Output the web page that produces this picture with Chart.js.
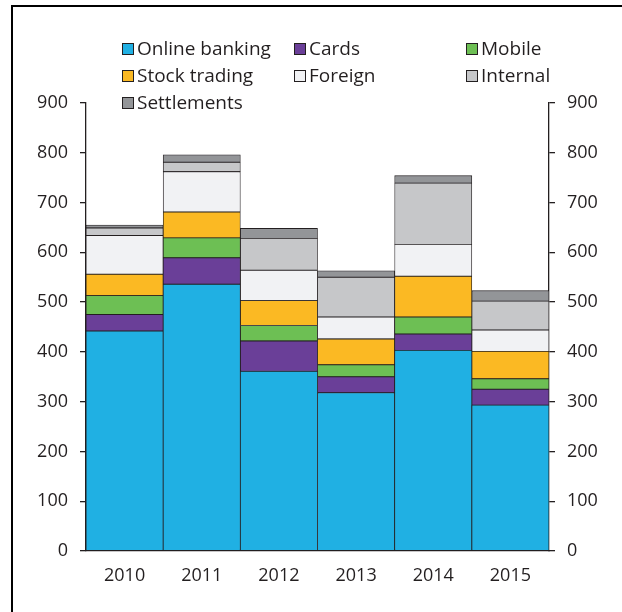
<!DOCTYPE html>
<html>
<head>
<meta charset="utf-8">
<script src="https://cdn.jsdelivr.net/npm/chart.js@4.4.1/dist/chart.umd.min.js"></script>
<style>
  html, body { margin: 0; padding: 0; background: #fff; }
  #wrap { position: relative; width: 622px; height: 612px; overflow: hidden; }
  #frame { position: absolute; left: 11px; top: 5px; width: 700px; height: 700px;
           border-left: 2px solid #000; border-top: 2px solid #000; }
  #c { position: absolute; left: 0; top: 0; }
</style>
</head>
<body>
<div id="wrap">
  <div id="frame"></div>
  <canvas id="c" width="622" height="612"></canvas>
</div>
<script>
const categories = ["2010", "2011", "2012", "2013", "2014", "2015"];
const seriesNames = ["Online banking", "Cards", "Mobile", "Stock trading", "Foreign", "Internal", "Settlements"];
const onlineBanking = [442, 536, 361, 318, 403, 293];
const cards         = [33, 53, 61, 32, 33, 32];
const mobile        = [38, 40, 31, 24, 34, 21];
const stockTrading  = [43, 52, 50, 52, 82, 55];
const foreign       = [78, 81, 61, 44, 64, 43];
const internal      = [15, 19, 64, 80, 123, 58];
const settlements   = [6, 15, 20, 13, 15, 21];
const yTicks = [0, 100, 200, 300, 400, 500, 600, 700, 800, 900];

const colors = ["#20b0e3", "#6a3f98", "#6dbf54", "#fbb923", "#f1f2f4", "#c6c7c9", "#939598"];
const seriesValues = [onlineBanking, cards, mobile, stockTrading, foreign, internal, settlements];
const ink = "#231f20";
const fontFamily = "'Open Sans', 'DejaVu Sans', sans-serif";

const datasets = seriesNames.map((name, i) => ({
  label: name,
  data: seriesValues[i],
  backgroundColor: colors[i],
  borderColor: ink,
  borderWidth: 0.8,
  borderSkipped: false,
  barPercentage: 1,
  categoryPercentage: 1,
  yAxisID: "y"
}));

const legendPlugin = {
  id: "gridLegend",
  afterDraw(chart) {
    const ctx = chart.ctx;
    const colX = [122, 294, 466];
    const rowY = [49, 76, 103];
    ctx.save();
    ctx.font = "19px " + fontFamily;
    ctx.textBaseline = "middle";
    ctx.textAlign = "left";
    chart.data.datasets.forEach((ds, i) => {
      const x = colX[i % 3];
      const y = rowY[Math.floor(i / 3)];
      ctx.fillStyle = ds.backgroundColor;
      ctx.fillRect(x + 0.5, y - 5.5, 11, 11);
      ctx.strokeStyle = ink;
      ctx.lineWidth = 1;
      ctx.strokeRect(x + 0.5, y - 5.5, 11, 11);
      ctx.fillStyle = ink;
      ctx.fillText(ds.label, x + 15, y + 1);
    });
    ctx.restore();
  }
};

const yAxisCommon = {
  type: "linear",
  stacked: true,
  min: 0,
  max: 900,
  afterBuildTicks(scale) { scale.ticks = yTicks.map(v => ({ value: v })); },
  grid: { drawOnChartArea: false, drawTicks: true, tickLength: 6, color: ink, lineWidth: 1.3 },
  border: { display: true, color: ink, width: 1.3 },
  ticks: { color: ink, font: { family: fontFamily, size: 18 }, padding: 12 }
};

new Chart(document.getElementById("c"), {
  type: "bar",
  data: { labels: categories, datasets },
  options: {
    responsive: false,
    devicePixelRatio: 1,
    animation: false,
    layout: { padding: { top: 103, left: 0, right: 0, bottom: 0 } },
    plugins: { legend: { display: false }, tooltip: { enabled: false } },
    scales: {
      x: {
        stacked: true,
        grid: { display: false, drawTicks: false },
        border: { display: true, color: ink, width: 1.3 },
        ticks: { color: ink, font: { family: fontFamily, size: 18 }, padding: 14 },
        afterFit(scale) { scale.height = 61; }
      },
      y: Object.assign({}, yAxisCommon, {
        position: "left",
        afterFit(scale) { scale.width = 86; }
      }),
      y2: Object.assign({}, yAxisCommon, {
        position: "right",
        afterFit(scale) { scale.width = 73; }
      })
    }
  },
  plugins: [legendPlugin]
});
</script>
</body>
</html>
